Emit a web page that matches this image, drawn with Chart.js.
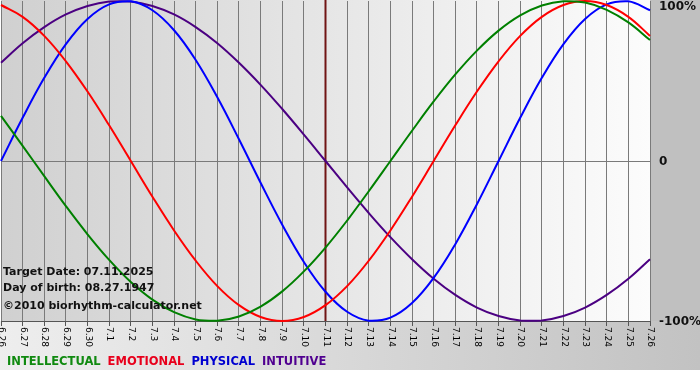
<!DOCTYPE html>
<html><head><meta charset="utf-8">
<script src="https://cdn.jsdelivr.net/npm/chart.js@4"></script>
<style>html,body{margin:0;padding:0;background:#fff}canvas{display:block}</style>
</head><body>
<canvas id="c" width="700" height="380"></canvas>
<script>
const dates = ['6.26','6.27','6.28','6.29','6.30','7.1','7.2','7.3','7.4','7.5','7.6','7.7','7.8','7.9','7.10','7.11','7.12','7.13','7.14','7.15','7.16','7.17','7.18','7.19','7.20','7.21','7.22','7.23','7.24','7.25','7.26'];
const intellectual = [28.2, 9.5, -9.5, -28.2, -45.8, -61.8, -75.6, -86.6, -94.5, -99.0, -99.9, -97.2, -91.0, -81.5, -69.0, -54.1, -37.2, -18.9, 0, 18.9, 37.2, 54.1, 69.0, 81.5, 91.0, 97.2, 99.9, 99.0, 94.5, 86.6, 75.6];
const emotional = [97.5, 90.1, 78.2, 62.3, 43.4, 22.3, 0, -22.3, -43.4, -62.3, -78.2, -90.1, -97.5, -100, -97.5, -90.1, -78.2, -62.3, -43.4, -22.3, 0, 22.3, 43.4, 62.3, 78.2, 90.1, 97.5, 100, 97.5, 90.1, 78.2];
const physical = [0, 27.0, 52.0, 73.1, 88.8, 97.9, 99.8, 94.2, 81.7, 63.1, 39.8, 13.6, -13.6, -39.8, -63.1, -81.7, -94.2, -99.8, -97.9, -88.8, -73.1, -52.0, -27.0, 0, 27.0, 52.0, 73.1, 88.8, 97.9, 99.8, 94.2];
const intuitive = [61.4, 73.6, 83.7, 91.6, 96.9, 99.7, 99.7, 96.9, 91.6, 83.7, 73.6, 61.4, 47.6, 32.5, 16.5, 0, -16.5, -32.5, -47.6, -61.4, -73.6, -83.7, -91.6, -96.9, -99.7, -99.7, -96.9, -91.6, -83.7, -73.6, -61.4];
const seriesNames = ['INTELLECTUAL', 'EMOTIONAL', 'PHYSICAL', 'INTUITIVE'];
const yTickValues = [100, 0, -100];
const yTickLabels = ['100%', '0', '-100%'];
const targetLabel = '7.11';
const infoLines = ['Target Date: 07.11.2025', 'Day of birth: 08.27.1947', '\u00A92010 biorhythm-calculator.net'];

const lineColors = ['#008000', '#ff0000', '#0000ff', '#4b0082'];
const legendColors = ['#108a10', '#e8001c', '#0000d0', '#500090'];

const bgPlugin = {
  id: 'bg',
  beforeDraw(chart) {
    const ctx = chart.ctx, a = chart.chartArea;
    ctx.save();
    ctx.fillStyle = '#ffffff';
    ctx.fillRect(0, 0, chart.width, chart.height);
    let g = ctx.createLinearGradient(0, 0, chart.width, 0);
    g.addColorStop(0, '#eeeeee'); g.addColorStop(1, '#c2c2c2');
    ctx.fillStyle = g;
    ctx.fillRect(0, a.bottom, chart.width, 370 - a.bottom);
    ctx.fillStyle = '#c0c0c0';
    ctx.fillRect(a.right, 0, chart.width - a.right, a.bottom);
    g = ctx.createLinearGradient(a.left, 0, a.right, 0);
    g.addColorStop(0, '#d0d0d0'); g.addColorStop(1, '#fcfcfc');
    ctx.fillStyle = g;
    ctx.fillRect(a.left, a.top - 1, a.right - a.left, a.bottom - a.top + 1);
    ctx.restore();
  },
  beforeDatasetsDraw(chart) {
    const ctx = chart.ctx, a = chart.chartArea;
    const x = chart.scales.x.getPixelForValue(dates.indexOf(targetLabel));
    ctx.save();
    ctx.strokeStyle = '#701414';
    ctx.lineWidth = 2;
    ctx.beginPath(); ctx.moveTo(x, a.top - 1); ctx.lineTo(x, a.bottom); ctx.stroke();
    ctx.restore();
  },
  afterDraw(chart) {
    const ctx = chart.ctx, a = chart.chartArea;
    const xs = chart.scales.x, ys = chart.scales.y;
    ctx.save();
    ctx.fillStyle = '#000';
    ctx.font = '9px "DejaVu Sans"';
    ctx.textAlign = 'left';
    ctx.textBaseline = 'middle';
    dates.forEach((d, i) => {
      const x = xs.getPixelForValue(i);
      ctx.save();
      ctx.translate(x + 0.5, a.bottom + 6);
      ctx.rotate(Math.PI / 2);
      ctx.fillText(d, 0, 0);
      ctx.restore();
    });
    ctx.font = 'bold 12px "DejaVu Sans"';
    ctx.fillStyle = '#111';
    yTickValues.forEach((v, i) => {
      let y = ys.getPixelForValue(v) + 1;
      if (y < a.top + 6) y = a.top + 6;
      ctx.fillText(yTickLabels[i], a.right + 9, y);
    });
    ctx.font = 'bold 11px "DejaVu Sans"';
    ctx.fillStyle = '#111';
    const infoY = [272, 288, 306];
    infoLines.forEach((t, i) => ctx.fillText(t, 3, infoY[i]));
    ctx.font = 'bold 11.5px "DejaVu Sans"';
    let lx = 7;
    seriesNames.forEach((n, i) => {
      ctx.fillStyle = legendColors[i];
      ctx.fillText(n, lx, 362);
      lx += ctx.measureText(n).width + 7;
    });
    ctx.restore();
  }
};

const mk = (label, data, color) => ({
  label, data, borderColor: color, backgroundColor: color, borderWidth: 2,
  pointRadius: 0, pointHoverRadius: 0, tension: 0.4, fill: false, clip: 4
});

new Chart(document.getElementById('c'), {
  type: 'line',
  data: {
    labels: dates,
    datasets: [
      mk(seriesNames[0], intellectual, lineColors[0]),
      mk(seriesNames[1], emotional, lineColors[1]),
      mk(seriesNames[2], physical, lineColors[2]),
      mk(seriesNames[3], intuitive, lineColors[3])
    ]
  },
  options: {
    responsive: false,
    devicePixelRatio: 1,
    animation: false,
    events: [],
    layout: { padding: { left: 1, right: 50, top: 1, bottom: 54 } },
    plugins: { legend: { display: false }, tooltip: { enabled: false } },
    scales: {
      x: {
        type: 'category',
        offset: false,
        ticks: { display: false },
        grid: { color: '#7a7a7a', lineWidth: 1, tickLength: 5, drawTicks: true, tickColor: '#555' },
        border: { display: true, color: '#555' }
      },
      y: {
        position: 'right',
        min: -100, max: 100,
        ticks: { display: false, stepSize: 100 },
        grid: { drawTicks: false, color: (c) => (c.tick && c.tick.value === 0) ? '#7a7a7a' : 'rgba(0,0,0,0)' },
        border: { display: false }
      }
    }
  },
  plugins: [bgPlugin]
});
</script>
</body></html>
